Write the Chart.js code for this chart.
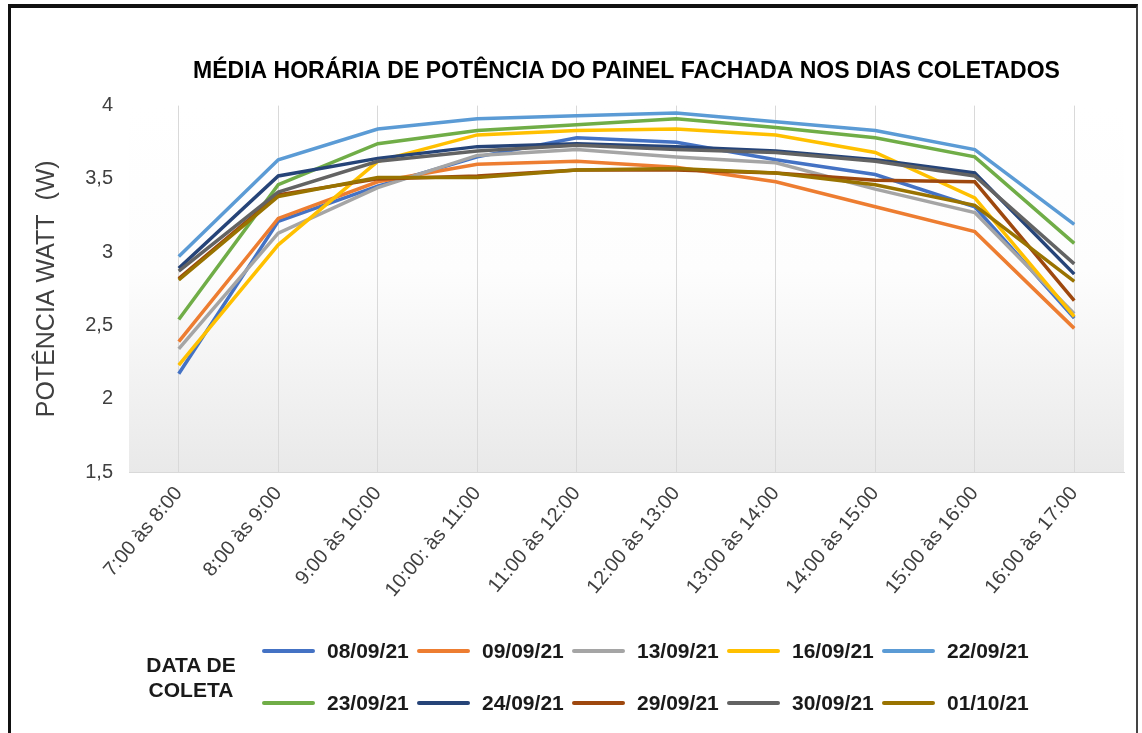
<!DOCTYPE html>
<html>
<head>
<meta charset="utf-8">
<script src="https://cdn.jsdelivr.net/npm/chart.js@4.4.1/dist/chart.umd.min.js"></script>
<style>
    html, body { margin: 0; padding: 0; background: #fff; }
    #frame { position: relative; width: 1142px; height: 733px; overflow: hidden; font-family: "Liberation Sans", Arial, sans-serif; }
    #chart { position: absolute; left: 0; top: 0; }
    #border { position: absolute; left: 8px; top: 4px; width: 1125px; height: 760px; border-left: 3px solid #111; border-top: 4px solid #111; border-right: 2px solid #444; pointer-events: none; }
    .leg-title { position: absolute; left: 138px; top: 652px; width: 106px; text-align: center; font-weight: bold; font-size: 21px; line-height: 25px; color: #1a1a1a; }
    .leg-item { position: absolute; height: 28px; display: flex; align-items: center; font-weight: bold; font-size: 21px; color: #1a1a1a; white-space: nowrap; }
    .leg-line { width: 53px; height: 4px; border-radius: 2px; margin-right: 12px; }
</style>
</head>
<body>
<div id="frame">
    <canvas id="chart" width="1142" height="733"></canvas>
    <div id="legend"></div>
    <div class="leg-title">DATA DE<br>COLETA</div>
    <div id="border"></div>
</div>
<script>
// categorias (eixo x)
const horarios = ['7:00 às 8:00', '8:00 às 9:00', '9:00 às 10:00', '10:00: às 11:00', '11:00 às 12:00',
    '12:00 às 13:00', '13:00 às 14:00', '14:00 às 15:00', '15:00 às 16:00', '16:00 às 17:00'];

// dias coletados
const datas = ['08/09/21', '09/09/21', '13/09/21', '16/09/21', '22/09/21',
    '23/09/21', '24/09/21', '29/09/21', '30/09/21', '01/10/21'];

// potencia media (W)
const p0809 = [2.17, 3.21, 3.45, 3.65, 3.78, 3.75, 3.63, 3.53, 3.31, 2.55];
const p0909 = [2.39, 3.23, 3.48, 3.60, 3.62, 3.58, 3.48, 3.31, 3.14, 2.48];
const p1309 = [2.34, 3.13, 3.44, 3.66, 3.70, 3.65, 3.61, 3.43, 3.27, 2.58];
const p1609 = [2.23, 3.05, 3.62, 3.80, 3.83, 3.84, 3.80, 3.68, 3.37, 2.56];
const p2209 = [2.97, 3.63, 3.84, 3.91, 3.93, 3.95, 3.89, 3.83, 3.70, 3.19];
const p2309 = [2.54, 3.46, 3.74, 3.83, 3.87, 3.91, 3.85, 3.78, 3.65, 3.06];
const p2409 = [2.89, 3.52, 3.64, 3.72, 3.74, 3.72, 3.69, 3.63, 3.54, 2.85];
const p2909 = [2.82, 3.39, 3.50, 3.52, 3.56, 3.56, 3.54, 3.49, 3.48, 2.67];
const p3009 = [2.87, 3.41, 3.62, 3.69, 3.73, 3.70, 3.68, 3.62, 3.52, 2.92];
const p0110 = [2.81, 3.38, 3.51, 3.51, 3.56, 3.57, 3.54, 3.46, 3.32, 2.80];

const series = [p0809, p0909, p1309, p1609, p2209, p2309, p2409, p2909, p3009, p0110];
const cores = ['#4472C4', '#ED7D31', '#A5A5A5', '#FFC000', '#5B9BD5',
    '#70AD47', '#264478', '#9E480E', '#636363', '#997300'];

// marcas do eixo y
const yTicks = [1.5, 2, 2.5, 3, 3.5, 4];

// fundo com degrade dentro da area do grafico
const fundoGradiente = {
    id: 'fundoGradiente',
    beforeDraw(chart) {
        const {ctx, chartArea: a} = chart;
        const g = ctx.createLinearGradient(0, a.top, 0, a.bottom);
        g.addColorStop(0, '#ffffff');
        g.addColorStop(0.45, '#fdfdfd');
        g.addColorStop(1, '#e9e9e9');
        ctx.save();
        ctx.fillStyle = g;
        ctx.fillRect(a.left, a.top, a.right - a.left, a.bottom - a.top);
        ctx.restore();
    }
};

// legenda em html, montada a partir dos datasets
const legendaHtml = {
    id: 'legendaHtml',
    afterUpdate(chart) {
        const box = document.getElementById('legend');
        box.innerHTML = '';
        chart.data.datasets.forEach((ds, i) => {
            const col = i % 5;
            const row = Math.floor(i / 5);
            const item = document.createElement('div');
            item.className = 'leg-item';
            item.style.left = (262 + col * 155) + 'px';
            item.style.top = (row ? 689 : 637) + 'px';
            const linha = document.createElement('span');
            linha.className = 'leg-line';
            linha.style.background = ds.borderColor;
            const txt = document.createElement('span');
            txt.textContent = ds.label;
            item.appendChild(linha);
            item.appendChild(txt);
            box.appendChild(item);
        });
    }
};

const ctx = document.getElementById('chart');
new Chart(ctx.getContext('2d'), {
    type: 'line',
    data: {
        labels: horarios,
        datasets: series.map((vals, i) => ({
            label: datas[i],
            data: vals,
            borderColor: cores[i],
            backgroundColor: cores[i],
            borderWidth: 3.5,
            pointRadius: 0,
            tension: 0,
            fill: false,
            order: series.length - i
        }))
    },
    options: {
        responsive: false,
        animation: false,
        layout: { padding: { left: 0, right: 18, top: 0, bottom: 0 } },
        plugins: {
            legend: { display: false },
            tooltip: { enabled: false },
            title: {
                display: true,
                fullSize: false,
                text: 'MÉDIA HORÁRIA DE POTÊNCIA DO PAINEL FACHADA NOS DIAS COLETADOS',
                color: '#000',
                font: { family: '"Liberation Sans", Arial, sans-serif', size: 23, weight: 'bold' },
                padding: { top: 58, bottom: 20 }
            }
        },
        scales: {
            x: {
                offset: true,
                grid: { color: '#d9d9d9', offset: false, drawTicks: false },
                border: { color: '#d9d9d9' },
                ticks: {
                    minRotation: 50, maxRotation: 50, padding: 10,
                    color: '#404040',
                    font: { family: '"Liberation Sans", Arial, sans-serif', size: 20 }
                },
                afterFit: s => { s.height = 261; }
            },
            y: {
                min: 1.5,
                max: 4,
                afterBuildTicks: s => { s.ticks = yTicks.map(v => ({ value: v })); },
                afterFit: s => { s.width = 129; },
                grid: { display: false, drawTicks: false },
                border: { display: false },
                ticks: {
                    padding: 16,
                    color: '#404040',
                    font: { family: '"Liberation Sans", Arial, sans-serif', size: 20 },
                    callback: v => String(v).replace('.', ',')
                },
                title: {
                    display: true,
                    text: 'POTÊNCIA WATT  (W)',
                    color: '#404040',
                    font: { family: '"Liberation Sans", Arial, sans-serif', size: 25 },
                    padding: { top: 32, bottom: 0 }
                }
            }
        }
    },
    plugins: [fundoGradiente, legendaHtml]
});
</script>
</body>
</html>
